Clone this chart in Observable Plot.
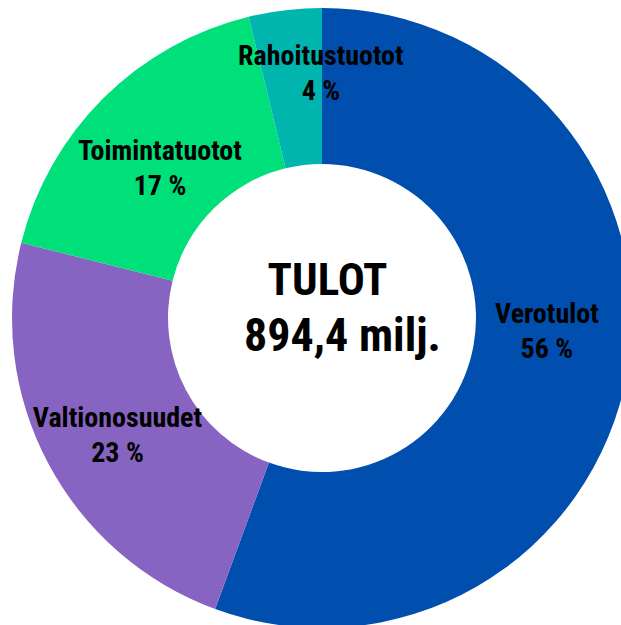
<!DOCTYPE html>
<html>
<head>
<meta charset="utf-8">
<script src="https://cdn.jsdelivr.net/npm/d3@7"></script>
<script src="https://cdn.jsdelivr.net/npm/@observablehq/plot@0.6"></script>
<style>
  html, body { margin: 0; padding: 0; background: #fff; overflow: hidden; }
  #chart svg { display: block; overflow: hidden; }
</style>
</head>
<body>
<div id="chart"></div>
<script>
// Data
const categories = ["Verotulot", "Valtionosuudet", "Toimintatuotot", "Rahoitustuotot"];
const shares = [55.6, 23.3, 17.3, 3.8];
const centerTitle = "TULOT";
const centerValue = "894,4 milj.";

// Styles / layout
const colors = ["#004FAE", "#8764C1", "#00E07A", "#00B5AD"];
const labelNudge = [[-4, -30], [0, 6], [1, 12], [26, -17]];
const W = 621, H = 625;
const CX = 322, CY = 318, R = 310;   // pixel centre and outer radius
const inner = 154 / 310;             // inner radius as share of outer
const font = "'Roboto Condensed', 'Liberation Sans Narrow', sans-serif";

const pie = d3.pie().sort(null).value(d => d)(shares);
const arcUnit = d3.arc().innerRadius(inner).outerRadius(1);

function donut(index, scales) {
  const cx = scales.x(0), cy = scales.y(0);
  const outerPx = scales.x(1) - cx;
  const innerPx = scales.x(inner) - cx;
  const arc = d3.arc().innerRadius(innerPx).outerRadius(outerPx);
  const g = d3.create("svg:g").attr("transform", `translate(${cx},${cy})`);
  g.selectAll("path").data(pie).join("path")
    .attr("d", arc)
    .attr("fill", (d, i) => colors[i]);
  return g.node();
}

const labelMarks = pie.map((p, i) => {
  const [ux, uy] = arcUnit.centroid(p);
  return Plot.text([0], {
    x: () => ux,
    y: () => -uy,
    text: () => `${categories[i]}\n${Math.round(shares[i])} %`,
    dx: labelNudge[i][0],
    dy: labelNudge[i][1],
    textAnchor: "middle",
    lineAnchor: "middle",
    lineHeight: 1.25,
    fontSize: 28,
    fontWeight: "bold",
    fontFamily: font,
    fill: "#000"
  });
});

const chart = Plot.plot({
  width: W,
  height: H,
  margin: 0,
  style: { background: "#fff", overflow: "hidden" },
  x: { domain: [-CX / R, (W - CX) / R], axis: null },
  y: { domain: [-(H - CY) / R, CY / R], axis: null },
  marks: [
    donut,
    ...labelMarks,
    Plot.text([0], {
      x: () => 0, y: () => 0, text: () => centerTitle,
      dx: 5, dy: -38, textAnchor: "middle", lineAnchor: "middle",
      fontSize: 45, fontWeight: "bold", fontFamily: font, fill: "#000"
    }),
    Plot.text([0], {
      x: () => 0, y: () => 0, text: () => centerValue,
      dx: 20, dy: 18, textAnchor: "middle", lineAnchor: "middle",
      fontSize: 46, fontWeight: "bold", fontFamily: font, fill: "#000"
    })
  ]
});
document.getElementById("chart").append(chart);
</script>
</body>
</html>
